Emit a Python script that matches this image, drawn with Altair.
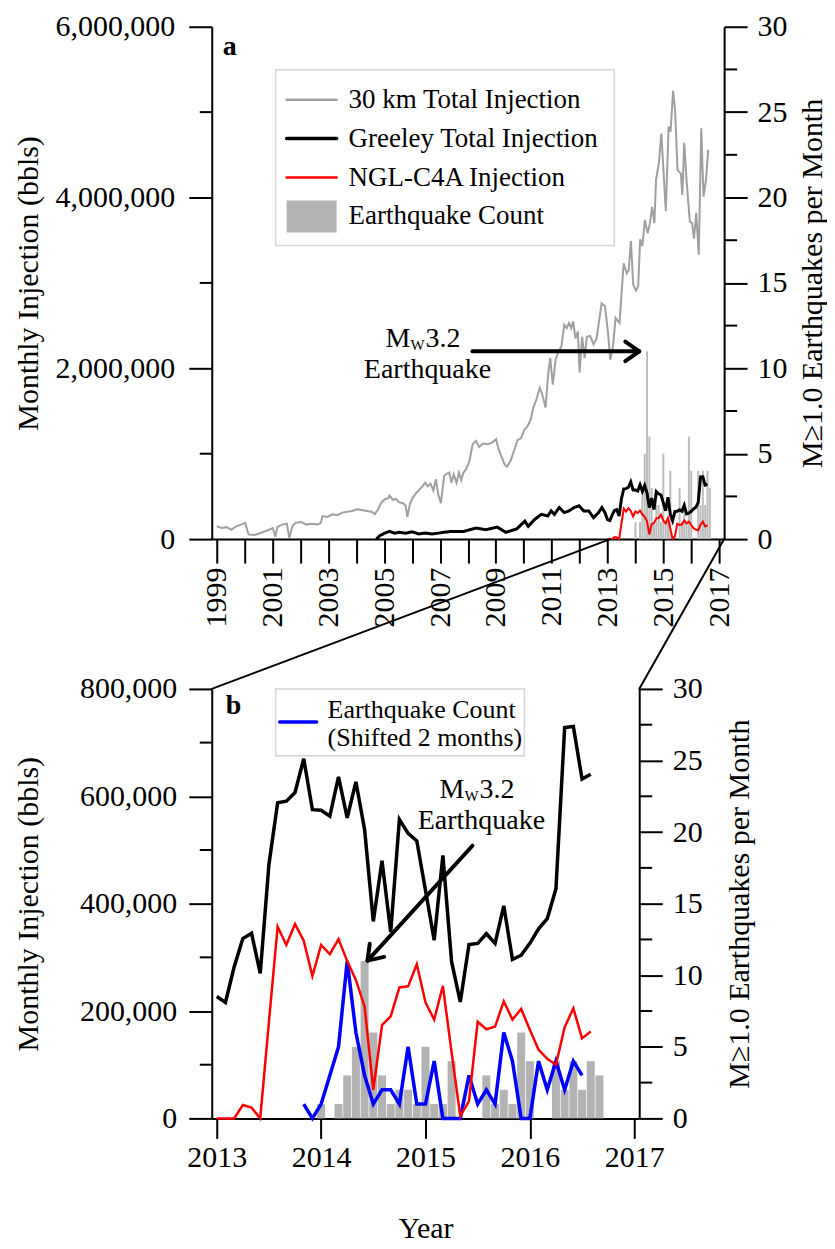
import math
import altair as alt
import pandas as pd

FONT = "Liberation Serif"

# ---------------- Panel a: 30 km total injection (decimal year, million bbl) ----------------
gray_t = [
    1999.00, 1999.17, 1999.35, 1999.52, 1999.70, 1999.87,
    2000.02, 2000.14, 2000.34, 2000.52, 2000.69, 2000.87,
    2001.01, 2001.10, 2001.17, 2001.34, 2001.51, 2001.60, 2001.71, 2001.82,
    2002.03, 2002.21, 2002.38, 2002.62, 2002.73, 2002.79, 2002.97,
    2003.14, 2003.32, 2003.50, 2003.67, 2003.85,
    2004.02, 2004.20, 2004.37, 2004.55, 2004.66, 2004.78, 2004.90,
    2005.04, 2005.15, 2005.19, 2005.31, 2005.42, 2005.54, 2005.68, 2005.77, 2005.83, 2005.92,
    2006.03, 2006.15, 2006.26, 2006.38, 2006.47, 2006.56, 2006.66, 2006.76, 2006.85, 2006.94,
    2007.03, 2007.15, 2007.21, 2007.33, 2007.41, 2007.49, 2007.59, 2007.68, 2007.76, 2007.84, 2007.94,
    2008.05, 2008.17, 2008.29, 2008.40, 2008.54, 2008.70, 2008.87,
    2009.01, 2009.10, 2009.20, 2009.32, 2009.40, 2009.52, 2009.67, 2009.78, 2009.90,
    2010.02, 2010.13, 2010.25, 2010.34, 2010.45, 2010.57, 2010.65, 2010.78, 2010.88, 2010.95,
    2011.04, 2011.14, 2011.23, 2011.35, 2011.45, 2011.54, 2011.62, 2011.70, 2011.77, 2011.85, 2011.94,
    2012.00, 2012.09, 2012.18, 2012.26, 2012.38, 2012.50, 2012.61, 2012.79, 2012.91,
    2013.02, 2013.10, 2013.20, 2013.29, 2013.43, 2013.58, 2013.69, 2013.76, 2013.84, 2013.92,
    2014.02, 2014.10, 2014.17, 2014.25, 2014.34, 2014.44, 2014.52, 2014.60, 2014.68, 2014.74, 2014.84, 2014.93,
    2015.09, 2015.19, 2015.26, 2015.35, 2015.42, 2015.51, 2015.63, 2015.68, 2015.75, 2015.83, 2015.95,
    2016.03, 2016.10, 2016.18, 2016.27, 2016.36, 2016.44, 2016.53, 2016.61,
]
gray_v = [
    0.15, 0.13, 0.14, 0.11, 0.15, 0.17,
    0.19, 0.055, 0.047, 0.066, 0.086, 0.11,
    0.13, 0.027, 0.14, 0.17, 0.18, 0.015, 0.15, 0.19,
    0.20, 0.17, 0.18, 0.17, 0.19, 0.27, 0.26,
    0.29, 0.28, 0.31, 0.32, 0.33,
    0.35, 0.34, 0.33, 0.32, 0.29, 0.35, 0.43,
    0.47, 0.48, 0.51, 0.46, 0.47, 0.43, 0.42, 0.39, 0.26, 0.41,
    0.49, 0.54, 0.58, 0.62, 0.66, 0.62, 0.65, 0.57, 0.70, 0.52,
    0.42, 0.74, 0.76, 0.78, 0.66, 0.76, 0.66, 0.78, 0.69, 0.78, 0.82,
    0.91, 1.11, 1.15, 1.08, 1.12, 1.11, 1.13,
    1.17, 1.05, 0.97, 0.87, 0.85, 0.91, 1.05, 1.16, 1.18,
    1.28, 1.32, 1.40, 1.54, 1.63, 1.77, 1.71, 1.54, 1.95, 2.12,
    1.81, 2.10, 2.18, 2.26, 2.51, 2.47, 2.53, 2.47, 2.55, 2.35, 2.43,
    1.95, 2.37, 2.12, 2.37, 2.38, 2.28, 2.35, 2.76, 2.73,
    2.41, 2.10, 2.26, 2.59, 2.53, 3.23, 3.11, 3.15, 3.49, 2.98,
    2.91, 2.96, 3.51, 3.43, 3.74, 3.58, 3.70, 3.89, 3.70, 4.21, 4.40, 4.75,
    3.84, 4.83, 4.77, 5.25, 5.03, 4.32, 4.28, 4.03, 4.64, 4.21, 3.72,
    3.70, 3.52, 3.82, 3.33, 4.81, 4.01, 4.21, 4.56,
]

# Greeley total injection before 2013 (decimal year, million bbl)
greeley_early_t = [
    2004.72, 2004.84, 2005.02, 2005.19, 2005.37, 2005.54, 2005.77,
    2006.00, 2006.24, 2006.47, 2006.71, 2006.94, 2007.15, 2007.37, 2007.84,
    2008.29, 2008.64, 2009.05, 2009.36, 2009.75,
    2010.04, 2010.16, 2010.39, 2010.63, 2010.86, 2010.98,
    2011.10, 2011.27, 2011.45, 2011.62, 2011.80, 2011.98,
    2012.15, 2012.33, 2012.50, 2012.68, 2012.80, 2012.91,
]
greeley_early_v = [
    0.0, 0.04, 0.07, 0.09, 0.07, 0.08, 0.07,
    0.085, 0.06, 0.07, 0.06, 0.07, 0.08, 0.09, 0.09,
    0.13, 0.11, 0.14, 0.08, 0.12,
    0.21, 0.15, 0.23, 0.29, 0.27, 0.33,
    0.29, 0.37, 0.31, 0.33, 0.37, 0.39,
    0.33, 0.33, 0.25, 0.31, 0.37, 0.31,
]

# ---------------- Monthly series, Jan 2013 - Aug 2016 (thousand bbl) ----------------
months = [f"{y}-{m:02d}" for y in range(2013, 2017) for m in range(1, 13)][:44]
greeley_k = [
    227, 216, 282, 335, 345, 270, 473, 588, 591, 607, 670, 575,
    574, 563, 636, 560, 627, 538, 367, 480, 347, 557, 531, 517,
    425, 332, 490, 292, 217, 324, 326, 344, 326, 396, 296, 304,
    326, 353, 372, 428, 728, 730, 632, 641,
]
ngl_k = [
    0, 0, 0, 25, 20, 0, 180, 357, 323, 362, 331, 265,
    323, 306, 334, 293, 258, 208, 53, 174, 190, 244, 246, 287,
    216, 184, 247, 123, 4, 32, 180, 166, 171, 218, 184, 204,
    165, 128, 111, 100, 170, 205, 149, 162,
]

# ---------------- Earthquake counts, Jan 2014 - Sep 2016 ----------------
eq_months = [f"{y}-{m:02d}" for y in range(2014, 2017) for m in range(1, 13)][:33]
eq_counts = [
    1, 0, 1, 3, 5, 11, 6, 3, 1, 2, 2, 1,
    5, 1, 1, 4, 0, 0, 0, 3, 1, 2, 1, 6,
    4, 0, 0, 4, 2, 4, 2, 4, 3,
]
SHIFT_MONTHS = 2


def dec_year(m):
    y, mo = m.split("-")
    return int(y) + (int(mo) - 1) / 12.0


df_gray = pd.DataFrame({"t": gray_t, "v": [v * 1e6 for v in gray_v]})
df_greeley_a = pd.DataFrame({
    "t": greeley_early_t + [dec_year(m) for m in months],
    "v": [v * 1e6 for v in greeley_early_v] + [k * 1e3 for k in greeley_k],
})
df_greeley = pd.DataFrame({"t": [dec_year(m) for m in months], "v": [k * 1e3 for k in greeley_k]})
df_ngl = pd.DataFrame({"t": [dec_year(m) for m in months], "v": [k * 1e3 for k in ngl_k]})
df_eq = pd.DataFrame({"t": [dec_year(m) for m in eq_months], "n": eq_counts})
df_blue = pd.DataFrame({"t": [dec_year(m) - SHIFT_MONTHS / 12.0 for m in eq_months], "n": eq_counts})

one = pd.DataFrame({"k": [0]})


def seg(x1, y1, x2, y2, w=2, color="black"):
    return alt.Chart(one).mark_rule(color=color, strokeWidth=w, strokeCap="round").encode(
        x=alt.value(x1), y=alt.value(y1), x2=alt.value(x2), y2=alt.value(y2))


def arrow(x1, y1, x2, y2, w=4, head=17, ang=35):
    L = math.hypot(x1 - x2, y1 - y2)
    ux, uy = (x1 - x2) / L, (y1 - y2) / L
    out = [seg(x1, y1, x2, y2, w)]
    for s in (1, -1):
        a = math.radians(ang) * s
        rx = ux * math.cos(a) - uy * math.sin(a)
        ry = ux * math.sin(a) + uy * math.cos(a)
        out.append(seg(x2, y2, x2 + head * rx, y2 + head * ry, w))
    return out


def txt(x, y, s, size=28, align="left", weight="normal", baseline="alphabetic"):
    return alt.Chart(one).mark_text(text=s, font=FONT, fontSize=size, fontWeight=weight,
                                    align=align, baseline=baseline, color="black").encode(
        x=alt.value(x), y=alt.value(y))


def box(x1, y1, x2, y2, fill="white", stroke="#d6d6d6", sw=1.5):
    return alt.Chart(one).mark_rect(fill=fill, stroke=stroke, strokeWidth=sw).encode(
        x=alt.value(x1), x2=alt.value(x2), y=alt.value(y1), y2=alt.value(y2))


EQ_TITLE = "M\u22651.0 Earthquakes per Month"
INJ_TITLE = "Monthly Injection (bbls)"
FMT_COMMA = "format(datum.value, ',')"
FMT_INT = "format(datum.value, 'd')"
GAP = 150  # vertical gap between the two panels

# ======================= Panel a =======================
WA, HA = 513, 513
xa = alt.Scale(domain=[1999, 2017], nice=False, zero=False)
ya = alt.Scale(domain=[0, 6000000], nice=False)
eqa = alt.Scale(domain=[0, 30], nice=False)

AX_XA = alt.Axis(values=list(range(1999, 2018)),
                 labelExpr="datum.value % 2 == 1 ? format(datum.value, 'd') : ''",
                 labelAngle=270, tickSize=24, labelPadding=4, title=None)
AX_YA = alt.Axis(values=[0, 2000000, 4000000, 6000000], labelExpr=FMT_COMMA, tickSize=23,
                 labelPadding=14, title=INJ_TITLE, titleX=-183, titleBaseline="middle",
                 titleAngle=270, orient="left")
AX_EQA = alt.Axis(orient="right", values=list(range(0, 31, 5)), labelExpr=FMT_INT, tickSize=23,
                  labelPadding=10, title=EQ_TITLE, titleX=88, titleBaseline="middle", titleAngle=270)

gray_a = alt.Chart(df_gray).mark_line(color="#a0a0a0", strokeWidth=2).encode(
    x=alt.X("t:Q", scale=xa, axis=AX_XA), y=alt.Y("v:Q", scale=ya, axis=AX_YA))
black_a = alt.Chart(df_greeley_a).mark_line(color="black", strokeWidth=3).encode(
    x=alt.X("t:Q", scale=xa, axis=AX_XA), y=alt.Y("v:Q", scale=ya, axis=AX_YA))
red_a = alt.Chart(df_ngl).mark_line(color="#ff0000", strokeWidth=2).encode(
    x=alt.X("t:Q", scale=xa, axis=AX_XA), y=alt.Y("v:Q", scale=ya, axis=AX_YA))
minor_la = alt.Chart(pd.DataFrame({"v": [1000000, 3000000, 5000000]})).mark_rule(
    color="black", strokeWidth=2).encode(
    y=alt.Y("v:Q", scale=ya, axis=AX_YA), x=alt.value(0), x2=alt.value(-12))

bars_a = alt.Chart(df_eq).mark_bar(color="#bdbdbd", size=2, orient="vertical").encode(
    x=alt.X("t:Q", scale=xa, axis=AX_XA), y=alt.Y("n:Q", scale=eqa, axis=AX_EQA))
minor_ra = alt.Chart(pd.DataFrame({"n": [2.5, 7.5, 12.5, 17.5, 22.5, 27.5]})).mark_rule(
    color="black", strokeWidth=2).encode(
    y=alt.Y("n:Q", scale=eqa, axis=AX_EQA), x=alt.value(WA), x2=alt.value(WA + 13))

annot_a = [
    txt(11, 28, "a", size=28, weight="bold"),
    box(64, 43, 403, 219),
    seg(75, 73, 125, 73, w=2.5, color="#a0a0a0"),
    seg(75, 112, 125, 112, w=3.5, color="black"),
    seg(75, 151, 125, 151, w=2.5, color="#ff0000"),
    alt.Chart(one).mark_rect(color="#b3b3b3").encode(
        x=alt.value(75), x2=alt.value(125), y=alt.value(174), y2=alt.value(206)),
    txt(137, 73, "30 km Total Injection", size=27, baseline="middle"),
    txt(137, 112, "Greeley Total Injection", size=27, baseline="middle"),
    txt(137, 151, "NGL-C4A Injection", size=27, baseline="middle"),
    txt(137, 190, "Earthquake Count", size=27, baseline="middle"),
    txt(174, 321, "M", size=28),
    txt(199, 324, "W", size=15),
    txt(214, 321, "3.2", size=28),
    txt(216, 352, "Earthquake", size=28, align="center"),
] + arrow(261, 325, 428, 325, w=4)

panel_a = alt.layer(
    alt.layer(bars_a, minor_ra),
    alt.layer(gray_a, black_a, red_a, minor_la),
    *annot_a,
).resolve_scale(y="independent").properties(width=WA, height=HA)

# ======================= Panel b =======================
WB, HB = 428, 430
xb = alt.Scale(domain=[2013, 2017], nice=False, zero=False)
yb = alt.Scale(domain=[0, 800000], nice=False)
eqb = alt.Scale(domain=[0, 30], nice=False)

AX_XB = alt.Axis(values=[2013, 2014, 2015, 2016, 2017], labelExpr=FMT_INT, labelAngle=0,
                 tickSize=20, labelPadding=4, title="Year", titleY=110, titleBaseline="middle")
AX_YB = alt.Axis(values=[0, 200000, 400000, 600000, 800000], labelExpr=FMT_COMMA, tickSize=23,
                 labelPadding=12, title=INJ_TITLE, titleX=-183, titleBaseline="middle",
                 titleAngle=270, orient="left")
AX_EQB = alt.Axis(orient="right", values=list(range(0, 31, 5)), labelExpr=FMT_INT, tickSize=23,
                  labelPadding=10, title=EQ_TITLE, titleX=100, titleBaseline="middle", titleAngle=270)

bars_b = alt.Chart(df_eq).mark_bar(color="#b3b3b3", size=8, orient="vertical").encode(
    x=alt.X("t:Q", scale=xb, axis=AX_XB), y=alt.Y("n:Q", scale=eqb, axis=AX_EQB))
minor_rb = alt.Chart(pd.DataFrame({"n": [2.5, 7.5, 12.5, 17.5, 22.5, 27.5]})).mark_rule(
    color="black", strokeWidth=2).encode(
    y=alt.Y("n:Q", scale=eqb, axis=AX_EQB), x=alt.value(WB), x2=alt.value(WB + 13))
blue_b = alt.Chart(df_blue).mark_line(color="#0000ff", strokeWidth=3.5).encode(
    x=alt.X("t:Q", scale=xb, axis=AX_XB), y=alt.Y("n:Q", scale=eqb, axis=AX_EQB))

black_b = alt.Chart(df_greeley).mark_line(color="black", strokeWidth=3.5).encode(
    x=alt.X("t:Q", scale=xb, axis=AX_XB), y=alt.Y("v:Q", scale=yb, axis=AX_YB))
red_b = alt.Chart(df_ngl).mark_line(color="#ff0000", strokeWidth=2.5).encode(
    x=alt.X("t:Q", scale=xb, axis=AX_XB), y=alt.Y("v:Q", scale=yb, axis=AX_YB))
minor_lb = alt.Chart(pd.DataFrame({"v": [100000, 300000, 500000, 700000]})).mark_rule(
    color="black", strokeWidth=2).encode(
    y=alt.Y("v:Q", scale=yb, axis=AX_YB), x=alt.value(0), x2=alt.value(-12))

annot_b = [
    txt(14, 25, "b", size=28, weight="bold"),
    box(64, 0, 313, 67),
    seg(68, 33, 105, 33, w=3.5, color="#0000ff"),
    txt(116, 21, "Earthquake Count", size=26, baseline="middle"),
    txt(116, 49, "(Shifted 2 months)", size=26, baseline="middle"),
    txt(228, 109, "M", size=28),
    txt(253, 112, "W", size=15),
    txt(268, 109, "3.2", size=28),
    txt(270, 140, "Earthquake", size=28, align="center"),
    # zoom connectors to panel a (2013 and 2017 on panel a's axis)
    seg(0, 0, WA * 14 / 18, -GAP, w=2),
    seg(WB, 0, WA, -GAP, w=2),
] + arrow(261, 157, 156, 272, w=4)

panel_b = alt.layer(
    alt.layer(bars_b, minor_rb, blue_b),
    alt.layer(black_b, red_b, minor_lb),
    *annot_b,
).resolve_scale(y="independent").properties(width=WB, height=HB)

chart = alt.vconcat(panel_a, panel_b, spacing=GAP, bounds="flush").properties(
    padding={"left": 6, "top": 3, "right": 0, "bottom": 0}
).configure_view(stroke=None).configure_axis(
    labelFont=FONT, labelFontSize=30, labelColor="black", labelFlush=False, labelOverlap=False,
    titleFont=FONT, titleFontSize=30, titleFontWeight="normal", titleColor="black",
    domainColor="black", domainWidth=2, tickColor="black", tickWidth=2, grid=False,
)

chart.save("out.html", embed_options={"renderer": "svg", "actions": False})
